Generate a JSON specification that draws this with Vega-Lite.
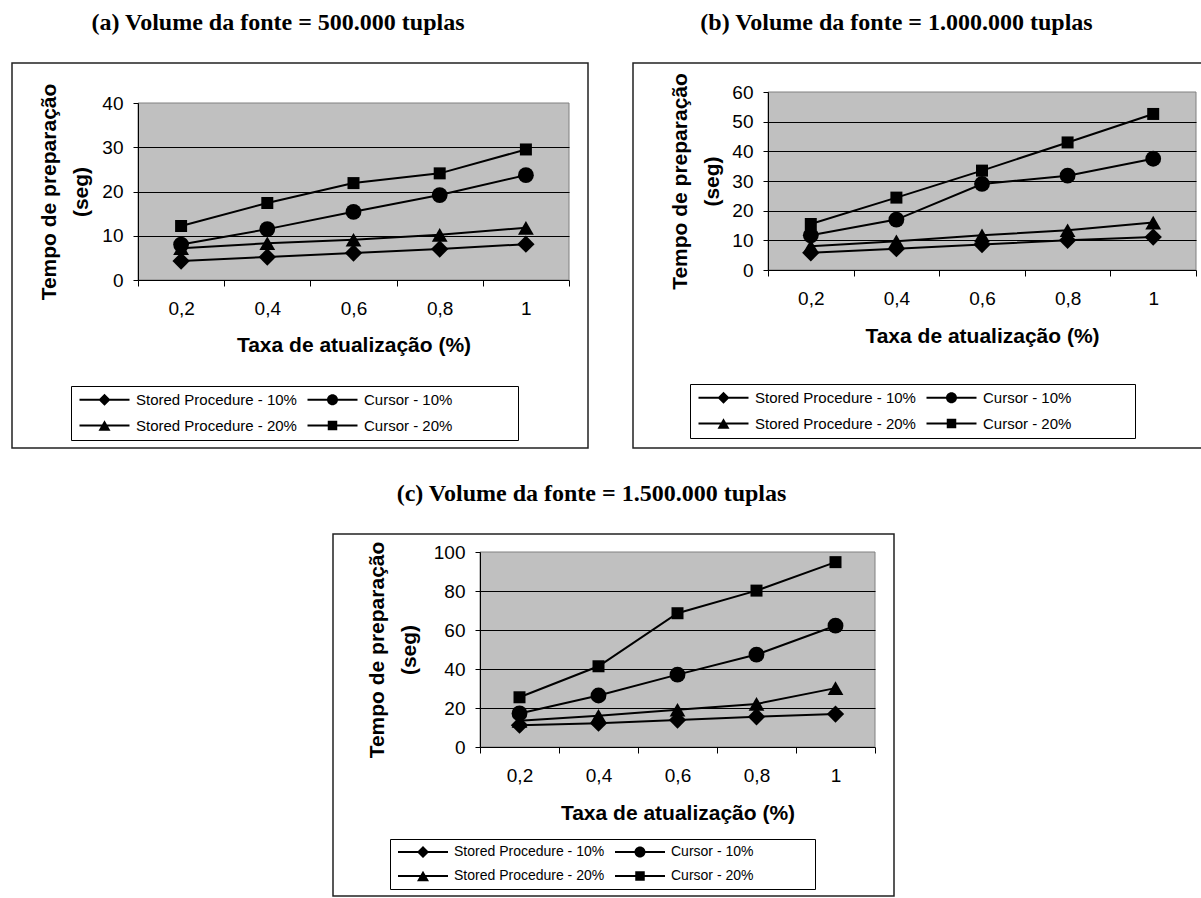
{
  "$schema": "https://vega.github.io/schema/vega-lite/v6.json",
  "padding": {"left": 11, "top": 10, "right": 0, "bottom": 0},
  "autosize": {"type": "pad"},
  "background": "white",
  "config": {"view": {"stroke": null}, "font": "Liberation Sans"},
  "datasets": {
    "a": [
      {"taxa": 0.2, "serie": "Stored Procedure - 10%", "tempo": 4.3},
      {"taxa": 0.4, "serie": "Stored Procedure - 10%", "tempo": 5.2},
      {"taxa": 0.6, "serie": "Stored Procedure - 10%", "tempo": 6.1},
      {"taxa": 0.8, "serie": "Stored Procedure - 10%", "tempo": 7.0},
      {"taxa": 1.0, "serie": "Stored Procedure - 10%", "tempo": 8.1},
      {"taxa": 0.2, "serie": "Cursor - 10%", "tempo": 8.0},
      {"taxa": 0.4, "serie": "Cursor - 10%", "tempo": 11.5},
      {"taxa": 0.6, "serie": "Cursor - 10%", "tempo": 15.4},
      {"taxa": 0.8, "serie": "Cursor - 10%", "tempo": 19.2},
      {"taxa": 1.0, "serie": "Cursor - 10%", "tempo": 23.7},
      {"taxa": 0.2, "serie": "Stored Procedure - 20%", "tempo": 7.2},
      {"taxa": 0.4, "serie": "Stored Procedure - 20%", "tempo": 8.3},
      {"taxa": 0.6, "serie": "Stored Procedure - 20%", "tempo": 9.1},
      {"taxa": 0.8, "serie": "Stored Procedure - 20%", "tempo": 10.2},
      {"taxa": 1.0, "serie": "Stored Procedure - 20%", "tempo": 11.8},
      {"taxa": 0.2, "serie": "Cursor - 20%", "tempo": 12.2},
      {"taxa": 0.4, "serie": "Cursor - 20%", "tempo": 17.4},
      {"taxa": 0.6, "serie": "Cursor - 20%", "tempo": 21.9},
      {"taxa": 0.8, "serie": "Cursor - 20%", "tempo": 24.1},
      {"taxa": 1.0, "serie": "Cursor - 20%", "tempo": 29.5}
    ],
    "b": [
      {"taxa": 0.2, "serie": "Stored Procedure - 10%", "tempo": 5.8},
      {"taxa": 0.4, "serie": "Stored Procedure - 10%", "tempo": 7.2},
      {"taxa": 0.6, "serie": "Stored Procedure - 10%", "tempo": 8.6},
      {"taxa": 0.8, "serie": "Stored Procedure - 10%", "tempo": 10.0},
      {"taxa": 1.0, "serie": "Stored Procedure - 10%", "tempo": 11.1},
      {"taxa": 0.2, "serie": "Cursor - 10%", "tempo": 11.7},
      {"taxa": 0.4, "serie": "Cursor - 10%", "tempo": 17.0},
      {"taxa": 0.6, "serie": "Cursor - 10%", "tempo": 29.0},
      {"taxa": 0.8, "serie": "Cursor - 10%", "tempo": 31.8},
      {"taxa": 1.0, "serie": "Cursor - 10%", "tempo": 37.5},
      {"taxa": 0.2, "serie": "Stored Procedure - 20%", "tempo": 8.0},
      {"taxa": 0.4, "serie": "Stored Procedure - 20%", "tempo": 9.7},
      {"taxa": 0.6, "serie": "Stored Procedure - 20%", "tempo": 11.7},
      {"taxa": 0.8, "serie": "Stored Procedure - 20%", "tempo": 13.4},
      {"taxa": 1.0, "serie": "Stored Procedure - 20%", "tempo": 16.0},
      {"taxa": 0.2, "serie": "Cursor - 20%", "tempo": 15.5},
      {"taxa": 0.4, "serie": "Cursor - 20%", "tempo": 24.4},
      {"taxa": 0.6, "serie": "Cursor - 20%", "tempo": 33.5},
      {"taxa": 0.8, "serie": "Cursor - 20%", "tempo": 43.0},
      {"taxa": 1.0, "serie": "Cursor - 20%", "tempo": 52.6}
    ],
    "c": [
      {"taxa": 0.2, "serie": "Stored Procedure - 10%", "tempo": 11.2},
      {"taxa": 0.4, "serie": "Stored Procedure - 10%", "tempo": 12.2},
      {"taxa": 0.6, "serie": "Stored Procedure - 10%", "tempo": 13.8},
      {"taxa": 0.8, "serie": "Stored Procedure - 10%", "tempo": 15.5},
      {"taxa": 1.0, "serie": "Stored Procedure - 10%", "tempo": 16.9},
      {"taxa": 0.2, "serie": "Cursor - 10%", "tempo": 17.2},
      {"taxa": 0.4, "serie": "Cursor - 10%", "tempo": 26.4},
      {"taxa": 0.6, "serie": "Cursor - 10%", "tempo": 37.1},
      {"taxa": 0.8, "serie": "Cursor - 10%", "tempo": 47.4},
      {"taxa": 1.0, "serie": "Cursor - 10%", "tempo": 62.2},
      {"taxa": 0.2, "serie": "Stored Procedure - 20%", "tempo": 13.4},
      {"taxa": 0.4, "serie": "Stored Procedure - 20%", "tempo": 16.0},
      {"taxa": 0.6, "serie": "Stored Procedure - 20%", "tempo": 19.1},
      {"taxa": 0.8, "serie": "Stored Procedure - 20%", "tempo": 22.1},
      {"taxa": 1.0, "serie": "Stored Procedure - 20%", "tempo": 30.2},
      {"taxa": 0.2, "serie": "Cursor - 20%", "tempo": 25.5},
      {"taxa": 0.4, "serie": "Cursor - 20%", "tempo": 41.4},
      {"taxa": 0.6, "serie": "Cursor - 20%", "tempo": 68.6},
      {"taxa": 0.8, "serie": "Cursor - 20%", "tempo": 80.2},
      {"taxa": 1.0, "serie": "Cursor - 20%", "tempo": 94.8}
    ]
  },
  "resolve": {"scale": {"shape": "independent"}, "legend": {"shape": "independent"}},
  "vconcat": [
    {
      "resolve": {"scale": {"shape": "independent"}, "legend": {"shape": "independent"}},
      "hconcat": [
        {
          "width": 576, "height": 385,
          "view": {"stroke": "#222222", "strokeWidth": 1.5, "fill": "white"},
          "title": {"text": "(a) Volume da fonte = 500.000 tuplas", "font": "Liberation Serif", "fontSize": 24, "fontWeight": "bold", "color": "black", "anchor": "middle", "offset": 28, "dx": -22},
          "data": {"name": "a"},
          "resolve": {"scale": {"shape": "independent"}, "legend": {"shape": "independent"}},
          "encoding": {
            "x": {"field": "taxa", "type": "quantitative",
              "scale": {"domain": [0.1, 1.1], "range": [126, 557], "nice": false, "zero": false},
              "axis": {"orient": "bottom", "offset": -168, "values": [0.1, 0.2, 0.3, 0.4, 0.5, 0.6, 0.7, 0.8, 0.9, 1.0, 1.1],
                "labelExpr": "round(datum.value*10) % 2 == 1 ? '' : replace(format(datum.value, '.1~f'), '.', ',')",
                "tickOpacity": {"condition": {"test": "round(datum.value*10) % 2 == 1", "value": 1}, "value": 0},
                "tickSize": 6, "tickColor": "black", "tickWidth": 1, "domainColor": "black", "domainWidth": 1, "grid": false,
                "labelFont": "Liberation Sans", "labelFontSize": 19, "labelColor": "black", "labelPadding": 13,
                "labelOverlap": false, "labelFlush": false, "labelBound": false,
                "title": "Taxa de atualização (%)", "titleFont": "Liberation Sans", "titleFontSize": 21, "titleFontWeight": "bold", "titleColor": "black", "titleY": 65, "titleBaseline": "middle", "zindex": 1}},
            "y": {"field": "tempo", "type": "quantitative",
              "scale": {"domain": [0, 40], "range": [217, 40], "nice": false},
              "axis": {"orient": "left", "offset": -126, "values": [0, 10, 20, 30, 40], "grid": true, "gridColor": "black", "gridWidth": 1,
                "gridOpacity": {"condition": {"test": "datum.value == 0 || datum.value == 40", "value": 0}, "value": 1},
                "tickSize": 5, "tickColor": "black", "domainColor": "black", "domainWidth": 1,
                "labelFont": "Liberation Sans", "labelFontSize": 19, "labelColor": "black", "labelPadding": 10,
                "title": ["Tempo de preparação", "(seg)"], "titleFont": "Liberation Sans", "titleFontSize": 21, "titleFontWeight": "bold", "titleColor": "black",
                "titleLineHeight": 32, "titleX": -89, "titleAngle": -90, "titleBaseline": "middle", "titleAlign": "center", "zindex": 1}}
          },
          "layer": [
            {"transform": [{"filter": "datum.taxa == 0.2 && datum.serie == 'Cursor - 20%'"}], "mark": {"type": "rect", "fill": "#c0c0c0", "stroke": "#808080", "strokeWidth": 1},
              "encoding": {"x": {"datum": 0.1, "type": "quantitative"}, "x2": {"datum": 1.1}, "y": {"datum": 0, "type": "quantitative"}, "y2": {"datum": 40}}},
            {"mark": {"type": "line", "color": "black", "strokeWidth": 2}, "encoding": {"detail": {"field": "serie"}}},
            {"mark": {"type": "point", "filled": true, "color": "black", "opacity": 1},
              "encoding": {
                "size": {"condition": [{"test": "datum.serie == 'Stored Procedure - 10%'", "value": 300}, {"test": "datum.serie == 'Cursor - 20%'", "value": 144}], "value": 250},
                "shape": {"field": "serie", "type": "nominal", "scale": {"domain": ["Stored Procedure - 10%", "Cursor - 10%", "Stored Procedure - 20%", "Cursor - 20%"], "range": ["diamond", "circle", "triangle-up", "square"]}, "legend": null}
              }},
            {"mark": {"type": "point", "filled": true, "color": "black", "opacity": 0},
              "encoding": {
                "shape": {"field": "serie", "type": "nominal", "scale": {"domain": ["Stored Procedure - 10%", "Cursor - 10%", "Stored Procedure - 20%", "Cursor - 20%"],
                    "range": ["M-5,-0.2H5V0.2H-5ZM0,-1.2L1.2,0L0,1.2L-1.2,0Z", "M-5,-0.2H5V0.2H-5ZM-1.1,0A1.1,1.1,0,1,1,1.1,0A1.1,1.1,0,1,1,-1.1,0Z", "M-5,-0.2H5V0.2H-5ZM0,-1.05L1.2,1.05L-1.2,1.05Z", "M-5,-0.2H5V0.2H-5ZM-0.95,-0.95H0.95V0.95H-0.95Z"]},
                  "legend": {"orient": "none", "legendX": 59, "legendY": 323, "title": "\u00a0", "titleOrient": "right", "titlePadding": 60, "titleFontSize": 10, "columns": 2, "gridAlign": "all", "columnPadding": 8, "rowPadding": 10, "padding": 6,
                    "values": ["Stored Procedure - 10%", "Stored Procedure - 20%", "Cursor - 10%", "Cursor - 20%"],
                    "strokeColor": "black", "fillColor": "white", "symbolSize": 100, "symbolStrokeWidth": 0, "symbolFillColor": "black", "symbolOpacity": 1,
                    "symbolOffset": 20, "labelOffset": 24, "labelFont": "Liberation Sans", "labelFontSize": 15, "labelColor": "black", "labelLimit": 400}}
              }}
          ]
        },
        {
          "width": 571, "height": 385,
          "view": {"stroke": "#222222", "strokeWidth": 1.5, "fill": "white"},
          "title": {"text": "(b) Volume da fonte = 1.000.000 tuplas", "font": "Liberation Serif", "fontSize": 24, "fontWeight": "bold", "color": "black", "anchor": "middle", "offset": 28, "dx": -22},
          "data": {"name": "b"},
          "resolve": {"scale": {"shape": "independent"}, "legend": {"shape": "independent"}},
          "encoding": {
            "x": {"field": "taxa", "type": "quantitative",
              "scale": {"domain": [0.1, 1.1], "range": [135, 563], "nice": false, "zero": false},
              "axis": {"orient": "bottom", "offset": -178, "values": [0.1, 0.2, 0.3, 0.4, 0.5, 0.6, 0.7, 0.8, 0.9, 1.0, 1.1],
                "labelExpr": "round(datum.value*10) % 2 == 1 ? '' : replace(format(datum.value, '.1~f'), '.', ',')",
                "tickOpacity": {"condition": {"test": "round(datum.value*10) % 2 == 1", "value": 1}, "value": 0},
                "tickSize": 6, "tickColor": "black", "tickWidth": 1, "domainColor": "black", "domainWidth": 1, "grid": false,
                "labelFont": "Liberation Sans", "labelFontSize": 19, "labelColor": "black", "labelPadding": 13,
                "labelOverlap": false, "labelFlush": false, "labelBound": false,
                "title": "Taxa de atualização (%)", "titleFont": "Liberation Sans", "titleFontSize": 21, "titleFontWeight": "bold", "titleColor": "black", "titleY": 66, "titleBaseline": "middle", "zindex": 1}},
            "y": {"field": "tempo", "type": "quantitative",
              "scale": {"domain": [0, 60], "range": [207, 29], "nice": false},
              "axis": {"orient": "left", "offset": -135, "values": [0, 10, 20, 30, 40, 50, 60], "grid": true, "gridColor": "black", "gridWidth": 1,
                "gridOpacity": {"condition": {"test": "datum.value == 0 || datum.value == 60", "value": 0}, "value": 1},
                "tickSize": 5, "tickColor": "black", "domainColor": "black", "domainWidth": 1,
                "labelFont": "Liberation Sans", "labelFontSize": 19, "labelColor": "black", "labelPadding": 10,
                "title": ["Tempo de preparação", "(seg)"], "titleFont": "Liberation Sans", "titleFontSize": 21, "titleFontWeight": "bold", "titleColor": "black",
                "titleLineHeight": 32, "titleX": -88, "titleAngle": -90, "titleBaseline": "middle", "titleAlign": "center", "zindex": 1}}
          },
          "layer": [
            {"transform": [{"filter": "datum.taxa == 0.2 && datum.serie == 'Cursor - 20%'"}], "mark": {"type": "rect", "fill": "#c0c0c0", "stroke": "#808080", "strokeWidth": 1},
              "encoding": {"x": {"datum": 0.1, "type": "quantitative"}, "x2": {"datum": 1.1}, "y": {"datum": 0, "type": "quantitative"}, "y2": {"datum": 60}}},
            {"mark": {"type": "line", "color": "black", "strokeWidth": 2}, "encoding": {"detail": {"field": "serie"}}},
            {"mark": {"type": "point", "filled": true, "color": "black", "opacity": 1},
              "encoding": {
                "size": {"condition": [{"test": "datum.serie == 'Stored Procedure - 10%'", "value": 300}, {"test": "datum.serie == 'Cursor - 20%'", "value": 144}], "value": 250},
                "shape": {"field": "serie", "type": "nominal", "scale": {"domain": ["Stored Procedure - 10%", "Cursor - 10%", "Stored Procedure - 20%", "Cursor - 20%"], "range": ["diamond", "circle", "triangle-up", "square"]}, "legend": null}
              }},
            {"mark": {"type": "point", "filled": true, "color": "black", "opacity": 0},
              "encoding": {
                "shape": {"field": "serie", "type": "nominal", "scale": {"domain": ["Stored Procedure - 10%", "Cursor - 10%", "Stored Procedure - 20%", "Cursor - 20%"],
                    "range": ["M-5,-0.2H5V0.2H-5ZM0,-1.2L1.2,0L0,1.2L-1.2,0Z", "M-5,-0.2H5V0.2H-5ZM-1.1,0A1.1,1.1,0,1,1,1.1,0A1.1,1.1,0,1,1,-1.1,0Z", "M-5,-0.2H5V0.2H-5ZM0,-1.05L1.2,1.05L-1.2,1.05Z", "M-5,-0.2H5V0.2H-5ZM-0.95,-0.95H0.95V0.95H-0.95Z"]},
                  "legend": {"orient": "none", "legendX": 57, "legendY": 321, "title": "\u00a0", "titleOrient": "right", "titlePadding": 58, "titleFontSize": 10, "columns": 2, "gridAlign": "all", "columnPadding": 8, "rowPadding": 10, "padding": 6,
                    "values": ["Stored Procedure - 10%", "Stored Procedure - 20%", "Cursor - 10%", "Cursor - 20%"],
                    "strokeColor": "black", "fillColor": "white", "symbolSize": 100, "symbolStrokeWidth": 0, "symbolFillColor": "black", "symbolOpacity": 1,
                    "symbolOffset": 20, "labelOffset": 24, "labelFont": "Liberation Sans", "labelFontSize": 15, "labelColor": "black", "labelLimit": 400}}
              }}
          ]
        }
      ],
      "spacing": 43
    },
    {
      "resolve": {"scale": {"shape": "independent"}, "legend": {"shape": "independent"}},
      "hconcat": [
        {"width": 320, "height": 10, "data": {"values": []}, "mark": "point"},
        {
          "width": 561, "height": 362,
          "view": {"stroke": "#222222", "strokeWidth": 1.5, "fill": "white"},
          "title": {"text": "(c) Volume da fonte = 1.500.000 tuplas", "font": "Liberation Serif", "fontSize": 24, "fontWeight": "bold", "color": "black", "anchor": "middle", "offset": 28, "dx": -22},
          "data": {"name": "c"},
          "resolve": {"scale": {"shape": "independent"}, "legend": {"shape": "independent"}},
          "encoding": {
            "x": {"field": "taxa", "type": "quantitative",
              "scale": {"domain": [0.1, 1.1], "range": [147, 542], "nice": false, "zero": false},
              "axis": {"orient": "bottom", "offset": -149, "values": [0.1, 0.2, 0.3, 0.4, 0.5, 0.6, 0.7, 0.8, 0.9, 1.0, 1.1],
                "labelExpr": "round(datum.value*10) % 2 == 1 ? '' : replace(format(datum.value, '.1~f'), '.', ',')",
                "tickOpacity": {"condition": {"test": "round(datum.value*10) % 2 == 1", "value": 1}, "value": 0},
                "tickSize": 6, "tickColor": "black", "tickWidth": 1, "domainColor": "black", "domainWidth": 1, "grid": false,
                "labelFont": "Liberation Sans", "labelFontSize": 19, "labelColor": "black", "labelPadding": 13,
                "labelOverlap": false, "labelFlush": false, "labelBound": false,
                "title": "Taxa de atualização (%)", "titleFont": "Liberation Sans", "titleFontSize": 21, "titleFontWeight": "bold", "titleColor": "black", "titleY": 66, "titleBaseline": "middle", "zindex": 1}},
            "y": {"field": "tempo", "type": "quantitative",
              "scale": {"domain": [0, 100], "range": [213, 18], "nice": false},
              "axis": {"orient": "left", "offset": -147, "values": [0, 20, 40, 60, 80, 100], "grid": true, "gridColor": "black", "gridWidth": 1,
                "gridOpacity": {"condition": {"test": "datum.value == 0 || datum.value == 100", "value": 0}, "value": 1},
                "tickSize": 5, "tickColor": "black", "domainColor": "black", "domainWidth": 1,
                "labelFont": "Liberation Sans", "labelFontSize": 19, "labelColor": "black", "labelPadding": 10,
                "title": ["Tempo de preparação", "(seg)"], "titleFont": "Liberation Sans", "titleFontSize": 21, "titleFontWeight": "bold", "titleColor": "black",
                "titleLineHeight": 32, "titleX": -103, "titleAngle": -90, "titleBaseline": "middle", "titleAlign": "center", "zindex": 1}}
          },
          "layer": [
            {"transform": [{"filter": "datum.taxa == 0.2 && datum.serie == 'Cursor - 20%'"}], "mark": {"type": "rect", "fill": "#c0c0c0", "stroke": "#808080", "strokeWidth": 1},
              "encoding": {"x": {"datum": 0.1, "type": "quantitative"}, "x2": {"datum": 1.1}, "y": {"datum": 0, "type": "quantitative"}, "y2": {"datum": 100}}},
            {"mark": {"type": "line", "color": "black", "strokeWidth": 2}, "encoding": {"detail": {"field": "serie"}}},
            {"mark": {"type": "point", "filled": true, "color": "black", "opacity": 1},
              "encoding": {
                "size": {"condition": [{"test": "datum.serie == 'Stored Procedure - 10%'", "value": 300}, {"test": "datum.serie == 'Cursor - 20%'", "value": 144}], "value": 250},
                "shape": {"field": "serie", "type": "nominal", "scale": {"domain": ["Stored Procedure - 10%", "Cursor - 10%", "Stored Procedure - 20%", "Cursor - 20%"], "range": ["diamond", "circle", "triangle-up", "square"]}, "legend": null}
              }},
            {"mark": {"type": "point", "filled": true, "color": "black", "opacity": 0},
              "encoding": {
                "shape": {"field": "serie", "type": "nominal", "scale": {"domain": ["Stored Procedure - 10%", "Cursor - 10%", "Stored Procedure - 20%", "Cursor - 20%"],
                    "range": ["M-5,-0.2H5V0.2H-5ZM0,-1.2L1.2,0L0,1.2L-1.2,0Z", "M-5,-0.2H5V0.2H-5ZM-1.1,0A1.1,1.1,0,1,1,1.1,0A1.1,1.1,0,1,1,-1.1,0Z", "M-5,-0.2H5V0.2H-5ZM0,-1.05L1.2,1.05L-1.2,1.05Z", "M-5,-0.2H5V0.2H-5ZM-0.95,-0.95H0.95V0.95H-0.95Z"]},
                  "legend": {"orient": "none", "legendX": 57, "legendY": 305, "title": "\u00a0", "titleOrient": "right", "titlePadding": 56, "titleFontSize": 10, "columns": 2, "gridAlign": "all", "columnPadding": 8, "rowPadding": 10, "padding": 6,
                    "values": ["Stored Procedure - 10%", "Stored Procedure - 20%", "Cursor - 10%", "Cursor - 20%"],
                    "strokeColor": "black", "fillColor": "white", "symbolSize": 100, "symbolStrokeWidth": 0, "symbolFillColor": "black", "symbolOpacity": 1,
                    "symbolOffset": 20, "labelOffset": 24, "labelFont": "Liberation Sans", "labelFontSize": 14, "labelColor": "black", "labelLimit": 400}}
              }}
          ]
        }
      ],
      "spacing": 0
    }
  ],
  "spacing": 32
}
